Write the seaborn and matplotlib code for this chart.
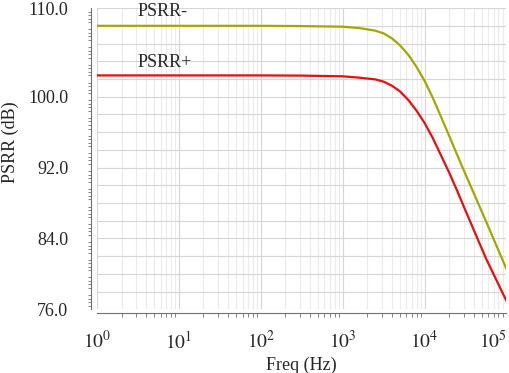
import numpy as np
import pandas as pd
import matplotlib
matplotlib.use("Agg")
import matplotlib.pyplot as plt
import matplotlib.ticker as mticker
import seaborn as sns

# valores (frecuencia en Hz, PSRR en dB)
freq = [1, 10, 100, 316, 1000, 1585, 2512, 3162, 3981, 5012, 6310, 7943,
        10000, 12589, 15849, 19953, 25119, 31623, 56234, 100000]
psrr_minus = [108.0, 108.0, 108.0, 107.97, 107.9, 107.75, 107.45, 107.15, 106.6, 105.8,
              104.75, 103.4, 101.8, 99.9, 97.75, 95.6, 93.4, 91.25, 85.95, 80.55]
psrr_plus = [102.4, 102.4, 102.4, 102.38, 102.3, 102.15, 101.95, 101.7, 101.25, 100.6,
             99.65, 98.45, 97.05, 95.35, 93.4, 91.45, 89.35, 87.15, 81.75, 76.95]

y_labels = [76, 84, 92, 100, 110]

df = pd.concat([
    pd.DataFrame({'freq': freq, 'psrr': psrr_minus, 'serie': 'PSRR-'}),
    pd.DataFrame({'freq': freq, 'psrr': psrr_plus, 'serie': 'PSRR+'}),
])

sns.set_style("white")
plt.rcParams['font.family'] = ['Liberation Serif', 'DejaVu Serif']
plt.rcParams['mathtext.fontset'] = 'stix'

fig = plt.figure(figsize=(5.1, 3.73), dpi=100)
ax = fig.add_axes([0.19, 0.1708, 0.803, 0.8075])

sns.lineplot(data=df, x='freq', y='psrr', hue='serie', sort=False,
             palette={'PSRR-': '#a3a800', 'PSRR+': '#e80e0e'},
             linewidth=1.6, legend=False, ax=ax)

ax.set_xscale('log')
ax.set_xlim(1, 1e5)
ax.set_ylim(76, 110)

# ejes
ax.xaxis.set_major_locator(mticker.LogLocator(base=10, numticks=10))
ax.xaxis.set_minor_locator(mticker.LogLocator(base=10, subs=np.arange(2, 10), numticks=10))
ax.xaxis.set_minor_formatter(mticker.NullFormatter())
ax.xaxis.set_major_formatter(mticker.FuncFormatter(lambda v, p: r'$10^{%d}$' % round(np.log10(v))))

ax.yaxis.set_major_locator(mticker.MultipleLocator(2))
ax.yaxis.set_minor_locator(mticker.MultipleLocator(0.4))
ax.yaxis.set_major_formatter(mticker.FuncFormatter(
    lambda v, p: f'{v:.1f}' if round(v) in y_labels else ''))

ax.grid(True, which='major', color='#d6d6d6', linewidth=0.8)
ax.grid(True, which='minor', axis='x', color='#ebebeb', linewidth=0.8)

for s in ['top', 'right']:
    ax.spines[s].set_visible(False)
ax.spines['left'].set_position(('outward', 4))
ax.spines['bottom'].set_position(('outward', 3))
for s in ['left', 'bottom']:
    ax.spines[s].set_color('#707070')
    ax.spines[s].set_linewidth(0.8)

ax.tick_params(axis='y', which='major', length=4.5, width=0.8, color='#707070', pad=12, labelsize=13)
ax.tick_params(axis='y', which='minor', length=2, width=0.6, color='#707070', left=True)
ax.tick_params(axis='x', which='major', length=5, width=0.8, color='#707070', pad=7, labelsize=14)
ax.tick_params(axis='x', which='minor', length=3, width=0.6, color='#707070', bottom=True)

# la ultima etiqueta se corre a la izquierda para que quepa
fig.canvas.draw()
xlabs = ax.get_xticklabels()
for t in xlabs:
    if t.get_text() == r'$10^{5}$':
        t.set_horizontalalignment('right')
        t.set_x(1e5)

ax.set_xlabel('Freq (Hz)', fontsize=13, labelpad=3)
ax.set_ylabel('PSRR (dB)', fontsize=13)
ax.yaxis.set_label_coords(-0.19, 0.555)

ax.text(3.1, 109.6, 'PSRR-', fontsize=13, va='center', ha='left')
ax.text(3.1, 103.9, 'PSRR+', fontsize=13, va='center', ha='left')

fig.savefig('out.png', dpi=100)
